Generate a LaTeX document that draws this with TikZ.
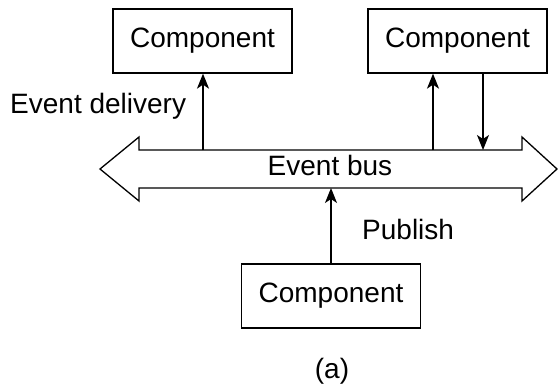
\documentclass[tikz,border=0pt]{standalone}
\usepackage{fontspec}
\setmainfont{Liberation Sans}
\usetikzlibrary{arrows.meta}
\begin{document}
\begin{tikzpicture}[x=1pt,y=-1pt,
  comp/.style={draw,line width=1.3pt,minimum width=179pt,minimum height=64pt,inner sep=0pt,font=\fontsize{28}{30}\selectfont},
  lbl/.style={inner sep=0pt,font=\fontsize{28}{30}\selectfont},
  conn/.style={line width=1.3pt,-{Stealth[length=15pt,width=12pt,inset=4pt]}}]
\useasboundingbox (0,0) rectangle (558,389);
\fill[white] (0,0) rectangle (558,389);
% event bus
\draw[line width=1.3pt,line join=miter] (100,169) -- (139,137) -- (139,150) -- (522,150) -- (522,137) -- (557,169) -- (522,201) -- (522,188) -- (139,188) -- (139,201) -- cycle;
\node[lbl,anchor=base] (bus) at (330,175) {Event bus};
% components
\node[comp] (c1) at (202.5,41) {Component};
\node[comp] (c2) at (457.5,41) {Component};
\node[comp] (c3) at (331,296) {Component};
% points on bus
\coordinate (b1) at (203,150);
\coordinate (b2) at (433,150);
\coordinate (b3) at (483,150);
\coordinate (b4) at (331,188);
\draw[conn] (b1) -- (b1 |- c1.south);
\draw[conn] (b2) -- (b2 |- c2.south);
\draw[conn] (b3 |- c2.south) -- (b3);
\draw[conn] (c3.north) -- (b4);
% labels
\node[lbl,anchor=base west] (ed) at (10,113) {Event delivery};
\node[lbl,anchor=base west] (pub) at (362,239) {Publish};
\node[lbl,anchor=base] (cap) at (332,378) {(a)};
\end{tikzpicture}
\end{document}
